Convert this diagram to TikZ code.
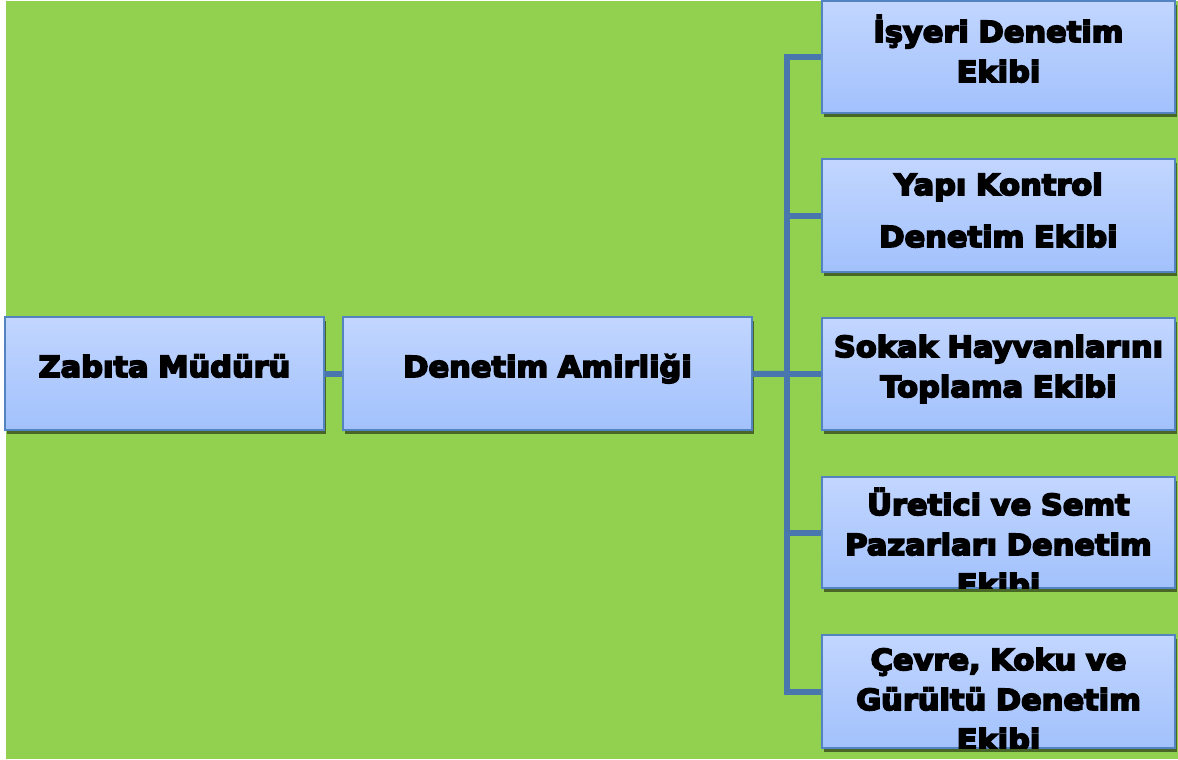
\documentclass[tikz,border=0pt]{standalone}
\usepackage{fontspec}
\setmainfont{DejaVu Sans}[FakeStretch=1.05, BoldFeatures={FakeBold=6}]
\usetikzlibrary{shadows}
\definecolor{zemin}{HTML}{92D050}
\definecolor{kenar}{HTML}{5383C0}
\definecolor{ustmavi}{RGB}{194,214,255}
\definecolor{altmavi}{RGB}{162,193,252}
\definecolor{hat}{HTML}{4A76AE}
\tikzset{
	kutu/.style={draw=kenar, line width=1.5pt, top color=ustmavi, bottom color=altmavi, inner sep=0pt,
		drop shadow={shadow xshift=1.5pt, shadow yshift=-4pt, opacity=0.5, fill=black}},
	yazi/.style={font=\bfseries\fontsize{29}{40}\selectfont, text width=350pt, align=center, anchor=base, inner sep=0pt},
	baglanti/.style={draw=hat, line width=6pt}
}

\begin{document}
\begin{tikzpicture}[x=1pt, y=-1pt]
% zemin
	\useasboundingbox (0,0) rectangle (1178,760);
	\fill[white] (0,0) rectangle (1178,760);
	\fill[zemin] (6,1) rectangle (1178,759);

% sol kutular
	\node[kutu, minimum width=319pt, minimum height=113pt] (mudur) at (164.5,373.5) {};
	\node[kutu, minimum width=409pt, minimum height=113pt] (amir) at (547.5,373.5) {};

% sag kutular
	\node[kutu, minimum width=353pt, minimum height=112pt] (isyeri) at (998.5,57) {};
	\node[kutu, minimum width=353pt, minimum height=113pt] (yapi) at (998.5,215.5) {};
	\node[kutu, minimum width=353pt, minimum height=112pt] (sokak) at (998.5,374) {};
	\node[kutu, minimum width=353pt, minimum height=111pt] (uretici) at (998.5,532.5) {};
	\node[kutu, minimum width=353pt, minimum height=113pt] (cevre) at (998.5,691.5) {};

% baglantilar
	\coordinate (govde) at (787,374);
	\draw[baglanti] (mudur) -- (amir);
	\draw[baglanti] (amir) -- (govde);
	\draw[baglanti] (govde) |- (isyeri.west);
	\draw[baglanti] (govde) |- (yapi.west);
	\draw[baglanti] (govde) -- (sokak.west);
	\draw[baglanti] (govde) |- (uretici.west);
	\draw[baglanti] (govde) |- (cevre.west);

% yazilar
	\node[yazi] (mudur-t) at (164.5,377) {Zabıta Müdürü};
	\node[yazi] (amir-t) at (547.5,377) {Denetim Amirliği};

	\begin{scope}
		\clip (isyeri.south west) rectangle (isyeri.north east);
		\node[yazi] (isyeri-t) at (998.5,42) {İşyeri Denetim\\Ekibi};
	\end{scope}
	\begin{scope}
		\clip (yapi.south west) rectangle (yapi.north east);
		\node[yazi] (yapi-t) at (998.5,195) {Yapı Kontrol\\[12pt]Denetim Ekibi};
	\end{scope}
	\begin{scope}
		\clip (sokak.south west) rectangle (sokak.north east);
		\node[yazi] (sokak-t) at (998.5,357) {Sokak Hayvanlarını\\Toplama Ekibi};
	\end{scope}
	\begin{scope}
		\clip (uretici.south west) rectangle (uretici.north east);
		\node[yazi] (uretici-t) at (998.5,515) {Üretici ve Semt\\Pazarları Denetim\\Ekibi};
	\end{scope}
	\begin{scope}
		\clip (cevre.south west) rectangle (cevre.north east);
		\node[yazi] (cevre-t) at (998.5,670) {Çevre, Koku ve\\Gürültü Denetim\\Ekibi};
	\end{scope}

\end{tikzpicture}
\end{document}
